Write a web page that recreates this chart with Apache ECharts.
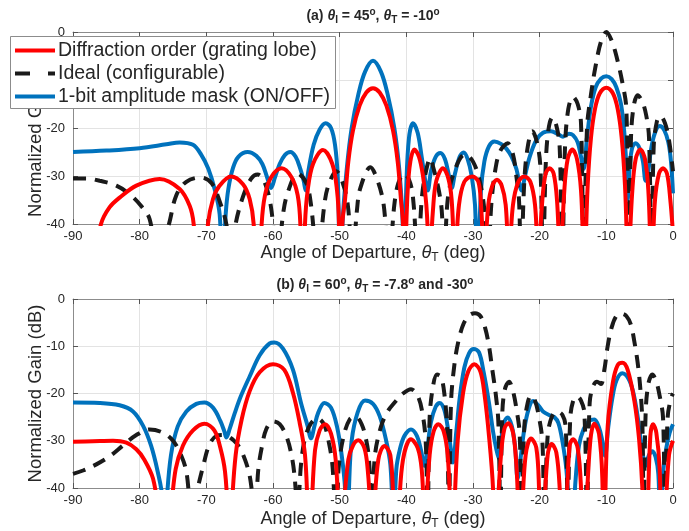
<!DOCTYPE html>
<html><head><meta charset="utf-8">
<script src="https://cdn.jsdelivr.net/npm/echarts@6/dist/echarts.min.js"></script>
<style>html,body{margin:0;padding:0;background:#fff}#c{width:689px;height:531px}</style>
</head><body><div id="c"></div>
<script>
// ---- axis ticks ----
const xTicks = [-90,-80,-70,-60,-50,-40,-30,-20,-10,0];
const yTicks = [-40,-30,-20,-10,0];
const seriesNames = ['Diffraction order (grating lobe)','Ideal (configurable)','1-bit amplitude mask (ON/OFF)'];

// ---- (a) theta_I = 45, theta_T = -10 ----
const topRed = [
[-89,-60],[-85.8,-40],[-84.5,-36.5],[-83,-34.5],[-80.5,-32],[-77,-30.6],[-74,-32.7],[-72.5,-36.2],[-71.9,-40],[-70.8,-60],
[-69.75,-40],[-69,-34.8],[-68,-32],[-66.3,-30.1],[-64.5,-31.7],[-63.5,-34.8],[-62.9,-40],[-62.3,-60],
[-61.7,-40],[-61.2,-34],[-60.3,-30.3],[-58.7,-28.4],[-57.2,-30.3],[-56.3,-34],[-55.9,-40],[-55.6,-60],
[-55.2,-40],[-54.8,-33],[-54,-27.5],[-52.5,-24.6],[-51.1,-27.5],[-50.4,-33],[-50.1,-40],[-49.9,-60],
[-49.6,-40],[-49.2,-35],[-48.7,-27],[-48,-20.5],[-47,-15.3],[-46,-12.6],[-45,-11.7],[-44,-12.6],[-43,-15.3],[-42,-20.5],[-41.3,-27],[-40.8,-35],[-40.5,-40],[-40.3,-60],
[-40.1,-45],[-39.8,-33],[-39.4,-27],[-38.8,-24.5],[-38.1,-26],[-37.5,-30],[-37,-36],[-36.7,-45],[-36.5,-60],
[-36.3,-45],[-36,-37],[-35.5,-31],[-34.5,-28.4],[-33.7,-30.5],[-33.2,-35],[-32.9,-45],[-32.7,-60],
[-32.5,-45],[-32.1,-36],[-31.3,-31.2],[-30.1,-30.1],[-29.2,-31.2],[-28.8,-36],[-28.5,-45],[-28.3,-60],
[-28.1,-45],[-27.7,-36],[-27.1,-32],[-26.4,-30.8],[-25.7,-32],[-25.1,-36],[-24.8,-45],[-24.6,-60],
[-24.4,-45],[-24,-36],[-23.2,-31.2],[-22.3,-30.1],[-21.4,-31.2],[-20.7,-36],[-20.4,-45],[-20.2,-60],
[-20,-45],[-19.6,-35],[-19.1,-29.5],[-18.5,-28.4],[-17.9,-29.5],[-17.4,-35],[-17.1,-45],[-16.9,-60],
[-16.7,-45],[-16.3,-33],[-15.8,-26.5],[-15.1,-24.5],[-14.4,-26.5],[-13.8,-33],[-13.5,-45],[-13.3,-60],
[-13.1,-45],[-12.8,-32],[-12.3,-22],[-11.7,-16],[-11,-12.8],[-10,-11.6],[-9,-12.8],[-8.3,-16],[-7.7,-22],[-7.2,-32],[-6.9,-45],[-6.7,-60],
[-6.5,-45],[-6.1,-33],[-5.6,-26.5],[-4.9,-24.5],[-4.2,-26.5],[-3.7,-33],[-3.4,-45],[-3.2,-60],
[-3,-45],[-2.7,-35],[-2.1,-29.5],[-1.5,-28.4],[-0.9,-29.5],[-0.4,-35],[0,-42]
];
const topIdeal = [
[-90,-30.5],[-88,-30.5],[-86,-31],[-83.5,-32],[-81.5,-33.8],[-79.8,-36.2],[-78.5,-39],[-77.3,-48],
[-75.6,-40],[-74.5,-34],[-73,-31.2],[-70.8,-30.3],[-69.2,-31.5],[-68,-35.3],[-67,-40],[-66.3,-48],
[-65.6,-40],[-64.5,-34.3],[-63.3,-30.6],[-62.3,-29.7],[-61.2,-31.5],[-60.3,-36.5],[-59.3,-48],
[-58.5,-38],[-57.8,-33.5],[-56.3,-29.5],[-55,-31.5],[-54.3,-36],[-53.3,-48],
[-52.3,-36],[-51.7,-32],[-50.5,-29],[-49.3,-32.5],[-48.7,-37],[-48.1,-48],
[-47.4,-37],[-46.9,-32.5],[-45.4,-28.2],[-44.3,-31],[-43.4,-36],[-42.6,-48],
[-41.8,-36],[-41.2,-31.5],[-40.3,-29.5],[-39.4,-31.5],[-38.9,-36],[-38.3,-48],
[-37.7,-35],[-37.2,-30],[-36.4,-26.3],[-36,-28],[-35.2,-32.5],[-34.7,-37],[-34.3,-48],
[-33.8,-35],[-32.8,-29],[-31.2,-25.5],[-30,-27],[-29,-31],[-28.3,-37],[-27.8,-48],
[-27.2,-35],[-26.5,-27.5],[-25.8,-24.5],[-24.8,-23.2],[-24,-25.5],[-23.5,-30],[-23.1,-35],[-22.8,-48],
[-22.3,-31],[-21.8,-24],[-21.1,-20.7],[-20.4,-23],[-19.9,-28],[-19.5,-48],
[-19.1,-28],[-18.7,-20.5],[-18.1,-17.8],[-17.5,-19.5],[-17,-24],[-16.6,-48],
[-16.2,-24],[-15.7,-16],[-15,-13.5],[-14.3,-15],[-13.8,-19],[-13.4,-48],
[-12.9,-20],[-12.3,-13],[-11.6,-7],[-10.8,-2],[-10,0],[-9.2,-1.8],[-8.4,-5.5],[-7.6,-10.5],[-7,-16],[-6.6,-48],
[-6.3,-22],[-5.9,-15.5],[-5.3,-13.2],[-4.6,-14.5],[-4,-17.5],[-3.6,-22],[-3.2,-48],
[-2.9,-24],[-2.4,-18.5],[-1.9,-17.5],[-1.2,-19],[-0.6,-22.5],[0,-29]
];
const topBlue = [
[-90,-25],[-85,-24.7],[-80,-24.2],[-76,-23.4],[-74,-23],[-72,-23.5],[-70.8,-25.5],[-69.7,-28.5],[-68.7,-33],[-68,-38],[-67.6,-50],
[-67.1,-38],[-66.7,-32.7],[-66,-28.3],[-65.2,-26],[-63.8,-25],[-62.5,-25.8],[-61.6,-27.5],[-60.9,-30.2],[-60.3,-32.5],
[-59.7,-30.3],[-59,-27.5],[-58.2,-25.6],[-57.4,-25],[-56.6,-26],[-55.9,-28.5],[-55.4,-31],[-55.1,-33],
[-54.7,-29],[-53.9,-23.5],[-53,-20.3],[-52.1,-19],[-51.3,-20],[-50.7,-23.5],[-50.3,-30],[-49.9,-50],
[-49.5,-38],[-48.9,-28],[-48.2,-20],[-47.2,-13],[-46.2,-8.3],[-45,-6],[-43.8,-8.3],[-42.8,-13],[-41.8,-20],[-41.1,-28],[-40.6,-38],[-40.3,-50],
[-40,-32],[-39.6,-22],[-39,-19],[-38.3,-21],[-37.7,-26],[-37.1,-31.5],[-36.8,-33],
[-36.3,-29],[-35.6,-26],[-34.9,-25.2],[-34.2,-26.5],[-33.6,-30],[-33.2,-32.5],
[-32.7,-29.5],[-32,-26],[-31.4,-25.1],[-30.8,-26.5],[-30.2,-30],[-29.7,-36],[-29.3,-50],
[-28.8,-33],[-28.3,-27],[-27.6,-23.8],[-26.8,-22.8],[-25.8,-23.3],[-25,-24.3],[-24.2,-26],[-23.5,-28.5],[-22.7,-33],
[-22.2,-30],[-21.5,-26],[-20.5,-22.5],[-19.5,-21],[-18.3,-20.7],[-17.2,-21.3],[-16.5,-21.8],[-15.6,-21.2],[-15,-21.5],[-14.3,-23],[-13.8,-26],[-13.4,-28.5],
[-12.9,-22],[-12.3,-15.5],[-11.6,-11.5],[-10.8,-9.7],[-10,-9.2],[-9.2,-9.8],[-8.5,-11.5],[-7.8,-15],[-7.3,-21],[-7,-28],[-6.8,-35],
[-6.5,-28],[-6.1,-24],[-5.6,-23.2],[-5,-24.3],[-4.5,-27],[-4.1,-31],
[-3.8,-30],[-3.3,-24.5],[-2.7,-21],[-2,-19.6],[-1.3,-20.5],[-0.7,-23],[-0.3,-27],[0,-33.6]
];

// ---- (b) theta_I = 60, theta_T = -7.8 and -30 ----
const botRed = [
[-90,-30.2],[-87,-30.1],[-84,-30],[-82,-30.4],[-80.5,-31.8],[-79.3,-34],[-78,-38],[-77.2,-45],[-76.3,-60],
[-75.3,-45],[-74.6,-36],[-73.5,-31],[-72,-27.8],[-70.3,-26.4],[-68.8,-27.8],[-67.9,-31.5],[-67.2,-36.5],[-66.8,-45],[-66.5,-60],
[-66.2,-45],[-65.6,-33],[-64.7,-25.5],[-63.5,-19.5],[-62,-15.5],[-60,-13.8],[-58.3,-15],[-57,-19.9],[-56,-26.2],[-55.2,-33],[-54.8,-45],[-54.5,-60],
[-54.2,-45],[-53.7,-32],[-53,-27.8],[-52.2,-26.5],[-51.3,-28.5],[-50.6,-34],[-50.2,-45],[-49.8,-60],
[-49.4,-45],[-48.7,-34],[-48,-31],[-47.2,-29.9],[-46.3,-31.5],[-45.8,-36],[-45.4,-45],[-45.1,-60],
[-44.8,-45],[-44.2,-34],[-43.3,-31.1],[-42.4,-33],[-41.9,-45],[-41.5,-60],
[-41.1,-45],[-40.5,-34],[-39.3,-29.7],[-38.3,-31.5],[-37.7,-36],[-37.4,-45],[-37.2,-60],
[-37,-45],[-36.5,-33],[-35.9,-28],[-35.2,-26.5],[-34.4,-28],[-33.8,-33],[-33.4,-45],[-33.1,-60],
[-32.8,-45],[-32.3,-30],[-31.5,-20],[-30.7,-15.3],[-29.8,-13.8],[-28.9,-15.3],[-28.3,-19.9],[-27.6,-29],[-27,-40],[-26.6,-60],
[-26.3,-45],[-25.8,-33],[-25.3,-27.5],[-24.7,-26.3],[-24,-28.3],[-23.5,-35],[-23.2,-45],[-22.9,-60],
[-22.6,-45],[-22.1,-33],[-21.3,-29.5],[-20.5,-31.5],[-20.1,-40],[-19.7,-60],
[-19.3,-45],[-18.8,-33],[-18.2,-30.7],[-17.5,-32.5],[-17,-40],[-16.4,-60],
[-16,-45],[-15.5,-31],[-15,-29.7],[-14.3,-31.5],[-13.8,-40],[-13.4,-60],
[-13,-45],[-12.4,-30],[-11.8,-26.4],[-11.1,-28.5],[-10.6,-38],[-10.4,-60],
[-10.2,-45],[-9.8,-27],[-9,-17.5],[-8.3,-14],[-7.6,-13.5],[-6.8,-15],[-5.8,-21.5],[-5.1,-29.5],[-4.6,-40],[-4.2,-60],
[-3.8,-45],[-3.4,-29],[-3,-26.5],[-2.5,-28.3],[-2,-36],[-1.6,-60],
[-1.1,-45],[-0.6,-33],[0,-30]
];
const botIdeal = [
[-90,-37],[-88.5,-36.3],[-86.5,-35],[-84.5,-33.3],[-82.5,-31],[-80.5,-28.8],[-78.5,-27.6],[-76.5,-28.3],[-75,-30],[-73.8,-33],[-73,-36.5],[-72.2,-45],
[-71.3,-40],[-70.5,-35.5],[-69.6,-31],[-68.5,-29],[-67.3,-28.8],[-66,-29.8],[-65,-31.5],[-64.2,-34],[-63.5,-37.4],[-62.7,-45],
[-62.2,-36],[-61.7,-31.5],[-61,-27.5],[-60,-25.9],[-59,-26.5],[-58,-29],[-57.3,-32.5],[-56.8,-37],[-56.3,-45],
[-55.8,-35],[-55.2,-29.5],[-54.3,-26.3],[-53.3,-25.3],[-52.3,-26.7],[-51.6,-30.5],[-51.1,-35],[-50.6,-45],
[-50.1,-35],[-49.4,-29],[-48.5,-25.5],[-47.6,-24.9],[-46.7,-26.5],[-46,-30],[-45.6,-34],[-45.2,-45],
[-44.7,-33],[-43.8,-27],[-42.8,-23.8],[-41.7,-21.8],[-40.5,-20],[-39.3,-19.1],[-38.3,-20.5],[-37.6,-24],[-37.1,-30],[-36.8,-45],
[-36.5,-25],[-36,-18.5],[-35.4,-16],[-34.8,-16.5],[-34.3,-20],[-33.9,-27],[-33.6,-45],
[-33.3,-22],[-32.8,-14],[-32.2,-9],[-31.4,-5.2],[-30.5,-3.4],[-29.7,-3],[-28.9,-3.6],[-28.2,-6],[-27.6,-10],[-27.1,-15],[-26.6,-20],[-26.2,-26],[-25.9,-45],
[-25.6,-24],[-25.2,-19],[-24.6,-17.5],[-24,-19.5],[-23.4,-24],[-23,-28.5],[-22.7,-45],
[-22.3,-27],[-21.8,-22],[-21.3,-20.4],[-20.7,-21.5],[-20.1,-25],[-19.6,-30],[-19.3,-45],
[-18.8,-29],[-18.2,-25],[-17.4,-23.8],[-16.6,-24.5],[-16.1,-27],[-15.8,-45],
[-15.4,-25],[-14.9,-21.2],[-14.4,-20.6],[-13.8,-21.5],[-13.3,-24],[-12.9,-45],
[-12.5,-22],[-12,-18.5],[-11.4,-17.5],[-10.8,-18],[-10.3,-15],[-9.8,-10],[-9.2,-6],[-8.5,-3.6],[-7.8,-3.1],[-7,-3.6],[-6.3,-5.5],[-5.8,-9],[-5.3,-13.5],[-4.9,-19],[-4.6,-26],[-4.4,-45],
[-4.1,-24],[-3.7,-18],[-3.1,-16],[-2.5,-17.5],[-2,-20.5],[-1.5,-25],[-1.2,-45],
[-0.8,-25],[-0.3,-21],[0,-20]
];
const botBlue = [
[-90,-21.9],[-86,-22],[-83,-22.5],[-81,-23.8],[-79.5,-26.8],[-78.3,-31],[-77.3,-36.5],[-76.6,-42],[-76.3,-55],
[-75.9,-42],[-75.3,-33],[-74.3,-27],[-73,-23.8],[-71.5,-22.2],[-70.3,-21.9],[-69,-23],[-67.9,-25.8],[-67.3,-28],[-67,-29.3],
[-66.5,-27.5],[-65.7,-24],[-64.8,-20.5],[-63.5,-16.4],[-62,-11.9],[-60.5,-9.4],[-59.8,-9.2],[-58.5,-10.5],[-57,-15],[-55.8,-22],[-54.8,-26.9],[-54.3,-29.5],
[-53.8,-27],[-53.2,-24],[-52.3,-22],[-51.3,-23],[-50.4,-27],[-49.7,-33],[-49.2,-40],[-48.9,-55],
[-48.6,-40],[-48.2,-30],[-47.3,-24],[-46.2,-21.5],[-45,-22.2],[-44,-24.8],[-43.1,-29.5],[-42.4,-35],[-41.9,-48],
[-41.5,-36],[-41,-32],[-40.3,-29],[-39.3,-27.6],[-38.4,-29],[-37.8,-32],[-37.3,-35.3],
[-36.8,-31],[-36.3,-26],[-35.6,-22.8],[-35,-22],[-34.3,-23.5],[-33.7,-28],[-33.2,-33],[-33,-34.6],
[-32.5,-28],[-32,-21],[-31.3,-14.5],[-30.6,-11.5],[-29.9,-10.6],[-29.1,-11.3],[-28.4,-15.5],[-27.6,-22],[-27,-28],[-26.5,-31.8],[-26.1,-33.9],
[-25.7,-29],[-25.3,-26],[-24.8,-25.1],[-24.2,-26.8],[-23.7,-31],[-23.3,-38],
[-22.8,-33],[-22.3,-27.5],[-21.7,-23.5],[-21,-21.6],[-20.2,-22.5],[-19.5,-23.8],[-18.5,-24.6],[-17.8,-25],[-17.2,-26.2],[-16.6,-30],[-16,-36],[-15.2,-50],
[-14.6,-38],[-14.1,-31],[-13.4,-27.5],[-12.6,-25.8],[-11.8,-25.5],[-11.1,-27.2],[-10.6,-30],[-10.2,-33.2],
[-9.7,-27],[-9.1,-21],[-8.5,-17.3],[-7.6,-15.7],[-6.7,-16.8],[-6,-19.5],[-5.4,-24],[-4.8,-30],[-4.1,-35.3],
[-3.6,-33],[-3.1,-32.2],[-2.6,-33.5],[-2.2,-37],[-1.9,-48],[-1.5,-37],[-1,-31.5],[-0.5,-28.3],[0,-26.5]
];

const FONT = '"Liberation Sans", Arial, Helvetica, sans-serif';
const INK = '#262626';
const RED = '#ff0000', BLUE = '#0072bd', BLACK = '#1a1a1a';
const DASH = [13, 9];

const grids = [
  {left: 73, right: 16, top: 32, height: 192},
  {left: 73, right: 16, top: 299, height: 191}
];

function xAx(gi, main) {
  return {
    type: 'value', gridIndex: gi, min: xTicks[0], max: xTicks[xTicks.length-1], interval: 10,
    position: main ? 'bottom' : 'top',
    axisLine: {show: true, onZero: false, lineStyle: {color: '#8c8c8c', width: 1}},
    axisTick: {show: true, inside: true, length: 5, lineStyle: {color: '#555'}},
    axisLabel: {show: main, color: INK, fontSize: 13, fontFamily: FONT, margin: 6},
    splitLine: {show: main, lineStyle: {color: '#e3e3e3', width: 1}},
    name: main ? '{t|Angle of Departure, }{i|θ}{s|T}{t| (deg)}' : '',
    nameLocation: 'middle', nameGap: gi === 0 ? 18 : 20, nameMoveOverlap: false,
    nameTextStyle: {rich: {
      t: {fontSize: 18, fontFamily: FONT, color: INK, lineHeight: 22},
      i: {fontSize: 18, fontFamily: FONT, color: INK, fontStyle: 'italic', lineHeight: 22},
      s: {fontSize: 12, fontFamily: FONT, color: INK, verticalAlign: 'bottom', lineHeight: 14, padding: [8,0,0,0]}
    }}
  };
}
function yAx(gi, main) {
  return {
    type: 'value', gridIndex: gi, min: yTicks[0], max: yTicks[yTicks.length-1], interval: 10,
    position: main ? 'left' : 'right',
    axisLine: {show: true, onZero: false, lineStyle: {color: '#8c8c8c', width: 1}},
    axisTick: {show: true, inside: true, length: 5, lineStyle: {color: '#555'}},
    axisLabel: {show: main, color: INK, fontSize: 13, fontFamily: FONT, margin: 8},
    splitLine: {show: main, lineStyle: {color: '#e3e3e3', width: 1}},
    name: main ? 'Normalized Gain (dB)' : '',
    nameLocation: 'middle', nameGap: 28, nameMoveOverlap: false,
    nameTextStyle: {fontSize: 18.5, fontFamily: FONT, color: INK}
  };
}

function line(name, data, gi, color, dashed, z) {
  return {
    name, type: 'line', data, xAxisIndex: gi, yAxisIndex: gi,
    showSymbol: false, symbol: 'none', smooth: 0.35, clip: true, z,
    lineStyle: {color, width: 4, type: dashed ? DASH : 'solid', cap: 'butt'},
    itemStyle: {color},
    emphasis: {disabled: true}, animation: false
  };
}

const titleRich = {
  b: {fontSize: 14, fontWeight: 'bold', fontFamily: FONT, fill: INK, lineHeight: 18},
  bi: {fontSize: 14, fontWeight: 'bold', fontStyle: 'italic', fontFamily: FONT, fill: INK, lineHeight: 18},
  sub: {fontSize: 10, fontWeight: 'bold', fontFamily: FONT, fill: INK, verticalAlign: 'bottom', lineHeight: 10, padding: [6,0,0,0]},
  sup: {fontSize: 10, fontWeight: 'bold', fontFamily: FONT, fill: INK, verticalAlign: 'top', lineHeight: 10, padding: [0,0,6,0]}
};

// legend drawn as graphics so the samples are plain line segments
const LEG = {x: 10, y: 36, w: 325, h: 72, rows: [50.5, 73.5, 96.5], x1: 15, x2: 55, tx: 58};
const legendColors = [RED, BLACK, BLUE];
const legendGraphics = [{
  type: 'rect', z: 20, shape: {x: LEG.x + 0.5, y: LEG.y + 0.5, width: LEG.w, height: LEG.h},
  style: {fill: '#fff', stroke: '#8c8c8c', lineWidth: 1}
}];
seriesNames.forEach((nm, i) => {
  legendGraphics.push({
    type: 'line', z: 21, shape: {x1: LEG.x1, y1: LEG.rows[i], x2: LEG.x2, y2: LEG.rows[i]},
    style: {stroke: legendColors[i], lineWidth: 4, lineDash: i === 1 ? [15, 18] : null, lineCap: 'butt'}
  });
  legendGraphics.push({
    type: 'text', z: 21, x: LEG.tx, y: LEG.rows[i],
    style: {text: nm, fontSize: 19.5, fontFamily: FONT, fill: INK, align: 'left', verticalAlign: 'middle'}
  });
});

const chart = echarts.init(document.getElementById('c'), null, {renderer: 'canvas'});
chart.setOption({
  animation: false,
  backgroundColor: '#fff',
  grid: grids,
  xAxis: [xAx(0, true), xAx(1, true), xAx(0, false), xAx(1, false)],
  yAxis: [yAx(0, true), yAx(1, true), yAx(0, false), yAx(1, false)],
  graphic: [
    {type: 'text', x: 373, y: 16, z: 10, style: {
      text: '{b|(a) }{bi|θ}{sub|I}{b| = 45}{sup|o}{b|, }{bi|θ}{sub|T}{b| = -10}{sup|o}',
      rich: titleRich, align: 'center', verticalAlign: 'middle'}},
    {type: 'text', x: 375, y: 285, z: 10, style: {
      text: '{b|(b) }{bi|θ}{sub|I}{b| = 60}{sup|o}{b|, }{bi|θ}{sub|T}{b| = -7.8}{sup|o}{b| and -30}{sup|o}',
      rich: titleRich, align: 'center', verticalAlign: 'middle'}}
  ].concat(legendGraphics),
  series: [
    line(seriesNames[2], topBlue, 0, BLUE, false, 2),
    line(seriesNames[1], topIdeal, 0, BLACK, true, 3),
    line(seriesNames[0], topRed, 0, RED, false, 4),
    line(seriesNames[2], botBlue, 1, BLUE, false, 2),
    line(seriesNames[1], botIdeal, 1, BLACK, true, 3),
    line(seriesNames[0], botRed, 1, RED, false, 4)
  ]
});
</script></body></html>
